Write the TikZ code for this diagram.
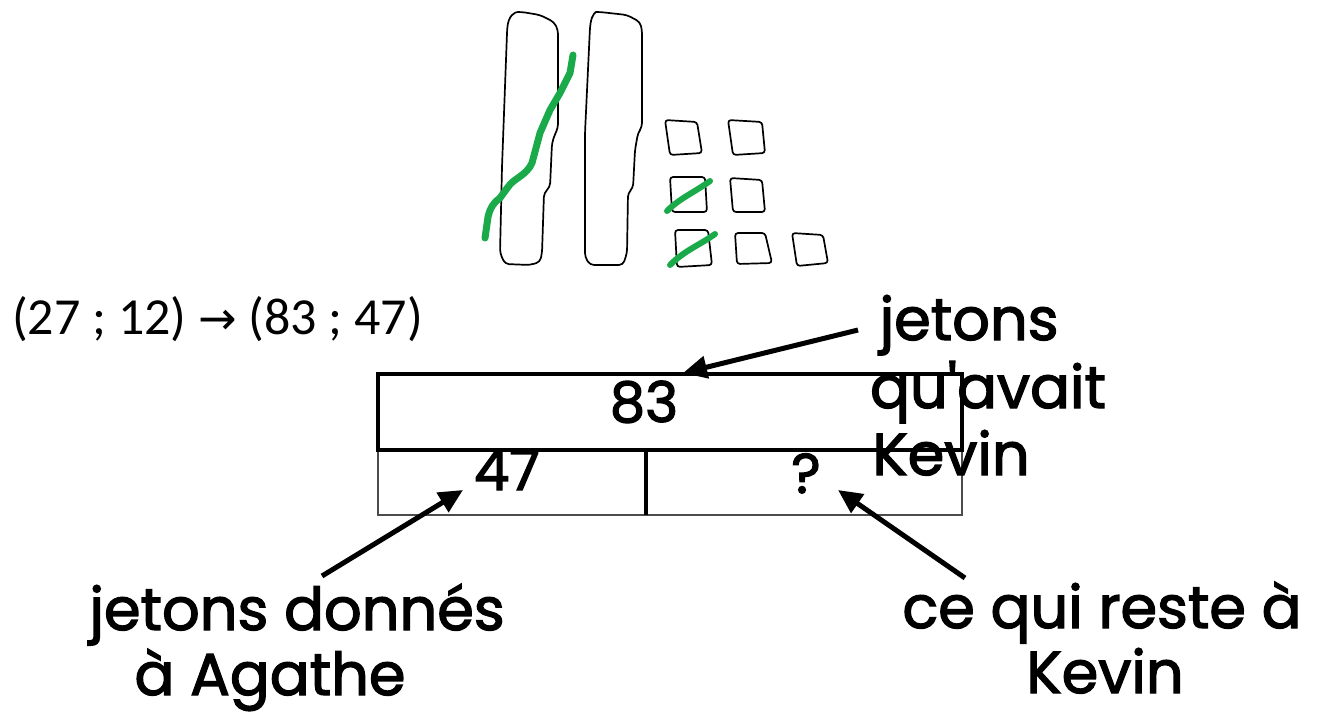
\documentclass[tikz,border=0pt]{standalone}
\usepackage{fontspec}
\setmainfont{Carlito}
\newfontfamily\hand[FakeBold=2.2]{Poppins}
\newfontfamily\sym{DejaVu Sans}
\usetikzlibrary{arrows.meta}
\definecolor{strike}{HTML}{1AAA4A}
\begin{document}
\begin{tikzpicture}[x=1pt,y=-1pt,
  sketch/.style={draw=black,line width=1.7pt,line join=round,rounded corners=4pt},
  strikeout/.style={draw=strike,line width=7pt,line cap=round,line join=round},
  handtext/.style={font=\hand\fontsize{59}{61}\selectfont,inner sep=0pt,anchor=base},
  numtext/.style={font=\hand\fontsize{56}{58}\selectfont,inner sep=0pt,anchor=base},
  pointer/.style={draw=black,line width=5pt,-{Triangle[length=24pt,width=22pt]}},
  thickline/.style={draw=black,line width=3.5pt},
  thinline/.style={draw=black!70,line width=1.5pt}]
\useasboundingbox (0,0) rectangle (1327,714);

% ten-rods
\path[sketch] (507,33) .. controls (508,15) and (515,12) .. (522,12)
  -- (540,15) -- (554,22) -- (558,30) -- (558,128) -- (555,134) -- (552,143)
  -- (550,187) -- (544,193) -- (542,253) -- (540,262) -- (530,265) -- (505,264)
  -- (500,253) -- (502,167) -- cycle;
\path[sketch] (590,27) .. controls (592,14) and (596,12) .. (600,12)
  -- (627,15) -- (640,22) -- (642,30) -- (642,127) -- (638,133) -- (635,150)
  -- (633,188) -- (628,193) -- (627,253) -- (623,265) -- (590,265) -- (585,257)
  -- (585,133) -- cycle;
\path[strikeout] (485,238) -- (488,217) .. controls (490,208) and (494,202) .. (500,198)
  -- (508,187) .. controls (514,178) and (526,176) .. (532,163)
  -- (540,133) -- (550,110) -- (560,93) -- (570,73) -- (573,55);

% unit cubes
\path[sketch,rounded corners=3pt] (665,120) -- (697,122) -- (702,153) -- (670,155) -- cycle;
\path[sketch,rounded corners=3pt] (728,120) -- (762,122) -- (765,153) -- (733,155) -- cycle;
\path[sketch,rounded corners=3pt] (670,177) -- (705,177) -- (707,212) -- (672,212) -- cycle;
\path[sketch,rounded corners=3pt] (730,178) -- (762,180) -- (765,212) -- (733,212) -- cycle;
\path[sketch,rounded corners=3pt] (675,230) -- (708,230) -- (712,265) -- (677,267) -- cycle;
\path[sketch,rounded corners=3pt] (735,233) -- (765,233) -- (772,263) -- (737,264) -- cycle;
\path[sketch,rounded corners=3pt] (792,233) -- (823,235) -- (828,263) -- (797,266) -- cycle;
\path[strikeout,line width=6pt] (667,211) .. controls (680,198) and (695,192) .. (710,181);
\path[strikeout,line width=6pt] (670,265) .. controls (685,250) and (700,245) .. (715,234);

% couple notation
\node[font=\fontsize{52}{54}\selectfont,inner sep=0pt,anchor=base west] (pair) at (12,334)
  {(27 ; 12) {\sym\fontsize{46}{48}\selectfont →} (83 ; 47)};

% bar model
\coordinate (tl) at (378,374);
\coordinate (tr) at (962,374);
\coordinate (ml) at (378,450);
\coordinate (mr) at (962,450);
\coordinate (bl) at (378,515);
\coordinate (br) at (962,515);
\coordinate (dt) at (646,450);
\coordinate (db) at (646,515);
\draw[thinline] (ml) -- (bl) -- (br) -- (mr);
\draw[thickline] (dt) -- (db);
\draw[thickline,line join=miter] (tl) rectangle (mr);

\node[numtext] (total) at (644,422) {83};
\node[numtext] (given) at (507,490) {47};
\node[numtext] (rest) at (806,493) {?};

% labels
\node[handtext] (whole1) at (969,340) {jetons};
\node[handtext] (whole2) at (988,408) {qu'avait};
\node[handtext] (whole3) at (951,475) {Kevin};
\node[handtext] (part1a) at (297,630) {jetons donnés};
\node[handtext] (part1b) at (270,695) {à Agathe};
\node[handtext] (part2a) at (1102,628) {ce qui reste à};
\node[handtext] (part2b) at (1105,693) {Kevin};

% pointers
\coordinate (p1s) at (858,330);
\coordinate (p1e) at (683,373);
\coordinate (p2s) at (322,576);
\coordinate (p2e) at (463,490);
\coordinate (p3s) at (965,578);
\coordinate (p3e) at (838,490);
\draw[pointer] (p1s) -- (p1e);
\draw[pointer] (p2s) -- (p2e);
\draw[pointer] (p3s) -- (p3e);
\end{tikzpicture}
\end{document}
